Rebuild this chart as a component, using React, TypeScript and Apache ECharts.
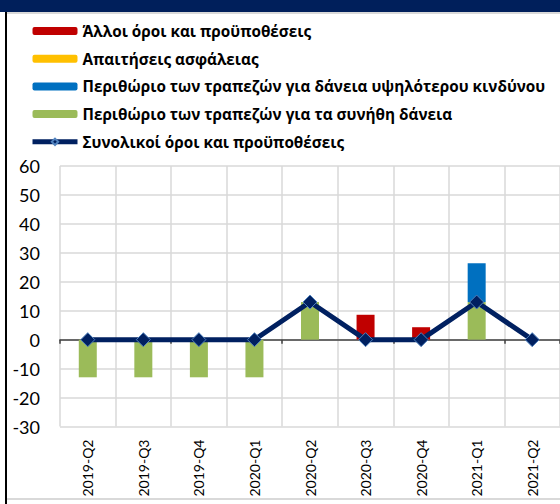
import React, { useEffect, useRef } from "react";
import * as echarts from "echarts";

const categories = ["2019-Q2", "2019-Q3", "2019-Q4", "2020-Q1", "2020-Q2", "2020-Q3", "2020-Q4", "2021-Q1", "2021-Q2"];
const otherTerms = [0, 0, 0, 0, 0, 8.6, 4.3, 0, 0];
const collateral = [0, 0, 0, 0, 0, 0, 0, 0, 0];
const riskierMargin = [0, 0, 0, 0, 0, 0, 0, 13.4, 0];
const averageMargin = [-13, -13, -13, -13, 13, 0, 0, 13, 0];
const overallTerms = [0, 0, 0, 0, 13, 0, 0, 13, 0];

const names = [
  "Άλλοι όροι και προϋποθέσεις",
  "Απαιτήσεις ασφάλειας",
  "Περιθώριο των τραπεζών για δάνεια υψηλότερου κινδύνου",
  "Περιθώριο των τραπεζών για τα συνήθη δάνεια",
  "Συνολικοί όροι και προϋποθέσεις",
];

const FONT = "Lato";
const LEGEND_FONT = "Open Sans";

export default function App() {
  const ref = useRef<HTMLDivElement>(null);
  useEffect(() => {
    if (!ref.current) return;
    const chart = echarts.init(ref.current, null, { renderer: "svg" });
    const bar = (name: string, data: number[], color: string) => ({
      name,
      type: "bar",
      stack: "s",
      data,
      barWidth: 18,
      itemStyle: { color },
      xAxisIndex: 0,
      z: 2,
    });
    chart.setOption({
      animation: false,
      backgroundColor: "#ffffff",
      textStyle: { fontFamily: FONT },
      graphic: [
        { type: "rect", shape: { x: 0, y: 0, width: 560, height: 12 }, style: { fill: "#001F5B" } },
        { type: "rect", shape: { x: 7, y: 12, width: 553, height: 2 }, style: { fill: "#D9D9D9" } },
        { type: "rect", shape: { x: 5, y: 12, width: 2, height: 492 }, style: { fill: "#000000" } },
        { type: "rect", shape: { x: 7, y: 498, width: 553, height: 2 }, style: { fill: "#D9D9D9" } },
      ],
      legend: {
        orient: "vertical",
        left: 25,
        top: 17,
        itemWidth: 45,
        itemHeight: 8,
        itemGap: 9.7,
        data: [
          names[0],
          names[1],
          names[2],
          names[3],
          { name: names[4], lineStyle: { width: 5, color: "#002060" } },
        ],
        textStyle: { fontFamily: LEGEND_FONT, fontSize: 15.3, fontWeight: "bold", color: "#000", lineHeight: 18 },
      },
      grid: { left: 60, top: 166, width: 510, height: 260.5 },
      xAxis: [
        {
          type: "category",
          data: categories,
          position: "bottom",
          axisLine: { show: false, onZero: false },
          axisTick: { show: false },
          splitLine: { show: true, lineStyle: { color: "#D9D9D9", width: 1.5 } },
          axisLabel: { rotate: 90, fontFamily: FONT, fontSize: 14, color: "#000", margin: 13, interval: 0 },
        },
        {
          type: "category",
          data: categories,
          position: "bottom",
          axisLine: { show: true, onZero: true, lineStyle: { color: "#404040", width: 1.5 } },
          axisTick: { show: true, length: 4, lineStyle: { color: "#404040", width: 1.5 } },
          axisLabel: { show: false },
          splitLine: { show: false },
        },
      ],
      yAxis: {
        type: "value",
        min: -30,
        max: 60,
        interval: 10,
        axisLine: { show: false },
        axisTick: { show: false },
        splitLine: { show: true, lineStyle: { color: "#D9D9D9", width: 1.5 } },
        axisLabel: { fontFamily: FONT, fontSize: 18, color: "#000", margin: 20 },
      },
      series: [
        bar(names[3], averageMargin, "#9BBB59"),
        bar(names[2], riskierMargin, "#0070C0"),
        bar(names[1], collateral, "#FFC000"),
        bar(names[0], otherTerms, "#C00000"),
        {
          name: names[4],
          type: "line",
          data: overallTerms,
          xAxisIndex: 0,
          symbol: "diamond",
          symbolSize: 14,
          z: 5,
          lineStyle: { color: "#002060", width: 5 },
          itemStyle: { color: "#002060", borderColor: "#4F81BD", borderWidth: 1 },
        },
      ],
    });
    return () => chart.dispose();
  }, []);
  return <div ref={ref} style={{ position: "absolute", left: 0, top: 0, width: 560, height: 504 }} />;
}
